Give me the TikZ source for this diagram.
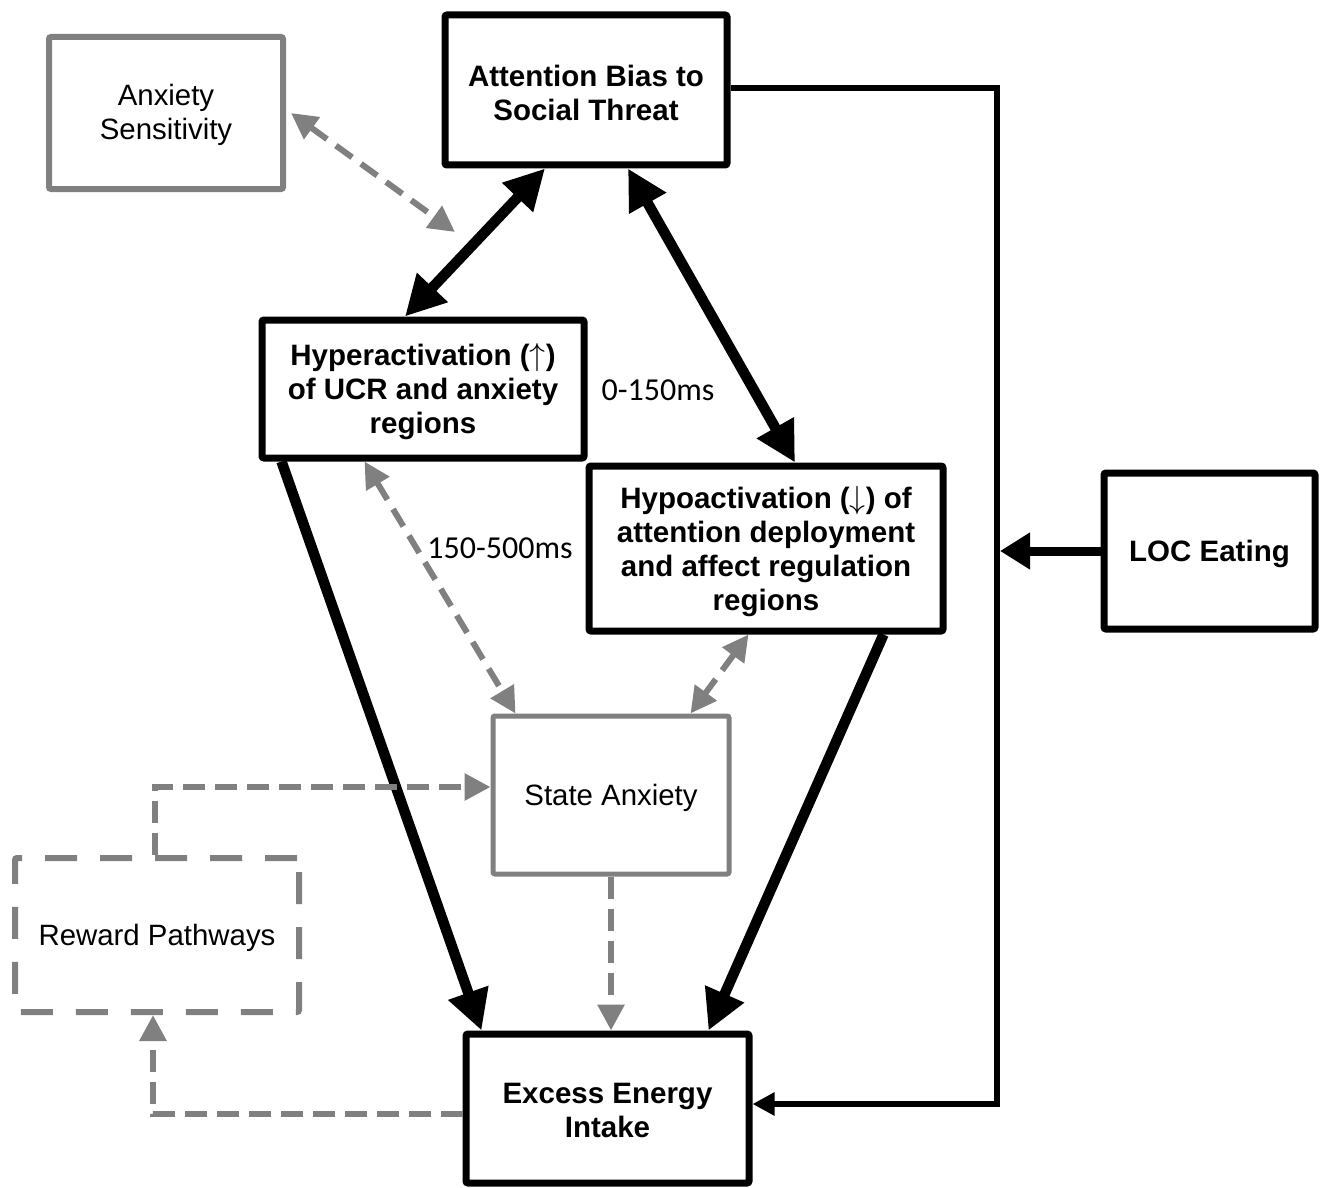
\RequirePackage{fix-cm}
\documentclass[tikz,border=0pt]{standalone}
\usepackage{fontspec}
\setmainfont{Liberation Sans}
\newfontfamily\calib{Carlito}
\usetikzlibrary{arrows.meta,calc}
\definecolor{gr}{HTML}{808080}
\tikzset{
  bbox/.style={draw=black, line width=7pt, rounded corners=2pt, inner sep=0pt, fill=white},
  gbox/.style={draw=gr, line width=6pt, rounded corners=2pt, inner sep=0pt},
  dbox/.style={gbox, dash pattern=on 32pt off 23pt},
  btext/.style={align=center, inner sep=0pt, font=\fontsize{29.5}{34}\selectfont\bfseries},
  rtext/.style={align=center, inner sep=0pt, font=\fontsize{29.4}{34}\selectfont},
  thick arr/.style={line width=10.5pt, black, -{Triangle[length=40pt,width=40pt]}},
  thick dbl/.style={line width=10.5pt, black, {Triangle[length=40pt,width=40pt]}-{Triangle[length=40pt,width=40pt]}},
  gdash/.style={line width=6pt, gr, dash pattern=on 22pt off 10pt, -{Triangle[length=26pt,width=26pt]}},
  gdbl/.style={line width=6pt, gr, dash pattern=on 20pt off 11pt, {Triangle[length=26pt,width=26pt]}-{Triangle[length=26pt,width=26pt]}},
  lab/.style={font=\calib\fontsize{32}{36}\selectfont, inner sep=0pt}
}
\newcommand{\myup}{{\fontsize{32}{34}\selectfont$\uparrow$}}
\newcommand{\mydown}{{\fontsize{32}{34}\selectfont$\downarrow$}}
\begin{document}
\begin{tikzpicture}[x=1pt,y=-1pt]
\useasboundingbox (0,0) rectangle (1320,1188);
% boxes
\node[bbox, minimum width=282pt, minimum height=150pt] (att) at (586,90) {};
\node[gbox, minimum width=234pt, minimum height=152pt] (anx) at (166,113) {};
\node[bbox, minimum width=322pt, minimum height=138pt] (hyper) at (423,389) {};
\node[bbox, minimum width=354pt, minimum height=165pt] (hypo) at (766,548.5) {};
\node[bbox, minimum width=211pt, minimum height=156pt] (loc) at (1209.5,551) {};
\node[gbox, minimum width=236pt, minimum height=158pt, line width=5pt] (state) at (611,795) {};
\node[dbox, minimum width=284pt, minimum height=154pt] (rew) at (157,935) {};
\node[bbox, minimum width=283pt, minimum height=149pt] (exc) at (607.5,1108.5) {};
% box texts
\node[btext] (att-t) at ([yshift=-3pt]att.center) {Attention Bias to\\Social Threat};
\node[rtext] (anx-t) at ([yshift=-2pt]anx.center) {Anxiety\\Sensitivity};
\node[btext] (hyper-t) at ([yshift=-3pt]hyper.center) {Hyperactivation (\myup)\\of UCR and anxiety\\regions};
\node[btext] (hypo-t) at ([yshift=-3pt]hypo.center) {Hypoactivation (\mydown) of\\attention deployment\\and affect regulation\\regions};
\node[btext] (loc-t) at ([yshift=-3pt]loc.center) {LOC Eating};
\node[rtext] (state-t) at ([yshift=-3pt]state.center) {State Anxiety};
\node[rtext] (rew-t) at ([yshift=-3pt]rew.center) {Reward Pathways};
\node[btext] (exc-t) at ([yshift=-2pt]exc.center) {Excess Energy\\Intake};
% labels
\node[lab] (l1) at (658,390) {0-150ms};
\node[lab] (l2) at (500,548) {150-500ms};
% right feedback loop
\coordinate (c1) at (997,88);
\coordinate (c2) at (997,1104);
\draw[line width=6pt, -{Triangle[length=22pt,width=22pt]}] ([yshift=2pt]att.east) -- (c1) -- (c2) -- ([yshift=4.5pt]exc.east);
\draw[line width=9pt, -{Triangle[length=30pt,width=35pt]}] (loc.west) -- ($(loc.west -| c1)+(3,0)$);
% thick black
\draw[thick dbl] ([xshift=-41pt]att.south) -- ([xshift=-18pt]hyper.north);
\draw[thick dbl] ([xshift=42pt]att.south) -- ([xshift=29pt]hypo.north);
\draw[thick arr] ([xshift=23pt]hyper.south west) -- ([xshift=19pt]exc.north west);
\draw[thick arr] ([xshift=-63pt]hypo.south east) -- ([xshift=-44pt]exc.north east);
% gray dashed
\coordinate (c3) at (455,232);
\draw[gdbl] ([xshift=5pt]anx.east) -- (c3);
\draw[gdbl] ([xshift=106pt]hyper.south west) -- ([xshift=25pt]state.north west);
\draw[gdbl] ([xshift=163pt]hypo.south west) -- ([xshift=-41pt]state.north east);
\draw[gdash] (state.south) -- (state.south |- exc.north);
\coordinate (c4) at (153,1114);
\coordinate (c5) at (155,787);
\draw[gdash] ([yshift=-5.5pt]exc.west) -- (c4) -- (c4 |- rew.south);
\draw[gdash] (c5 |- rew.north) -- (c5) -- (c5 -| state.west);
\end{tikzpicture}
\end{document}
